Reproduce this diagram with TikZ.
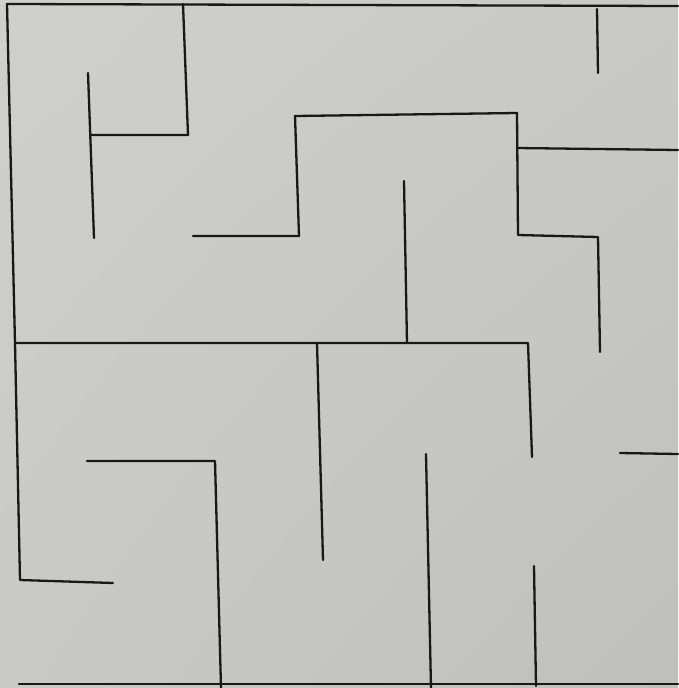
\documentclass[tikz,border=0pt]{standalone}
\usetikzlibrary{shadings}
\begin{document}
\begin{tikzpicture}[x=1pt,y=-1pt]
\definecolor{paper}{RGB}{201,201,199}
\definecolor{paperlight}{RGB}{207,207,205}
\definecolor{paperdark}{RGB}{191,191,189}
\definecolor{ink}{RGB}{28,22,22}
\tikzset{wall/.style={draw=ink,line width=2.3pt,line cap=round,line join=round}}
\useasboundingbox (0,0) rectangle (678,688);
\shade[upper left=paperlight,upper right=paper,lower left=paper,lower right=paperdark] (0,0) rectangle (678,688);
% outer border
\draw[wall] (678,6) -- (7,4) -- (15,343) -- (20,580) -- (113,583);
\draw[wall] (19,684) -- (678,684);
% top-left walls
\draw[wall] (183,4) -- (188,135) -- (90,135);
\draw[wall] (88,73) -- (94,238);
% central stepped wall
\draw[wall] (193,236) -- (299,236) -- (295,116) -- (517,113) -- (518,235) -- (598,237) -- (600,352);
\draw[wall] (517,148) -- (678,150);
\draw[wall] (597,9) -- (598,73);
\draw[wall] (404,181) -- (407,343);
% middle horizontal
\draw[wall] (15,343) -- (528,343) -- (532,457);
\draw[wall] (317,343) -- (323,560);
% lower walls
\draw[wall] (87,461) -- (215,461) -- (221,688);
\draw[wall] (426,454) -- (431,688);
\draw[wall] (534,566) -- (536,686);
\draw[wall] (620,453) -- (678,454);
\end{tikzpicture}
\end{document}
